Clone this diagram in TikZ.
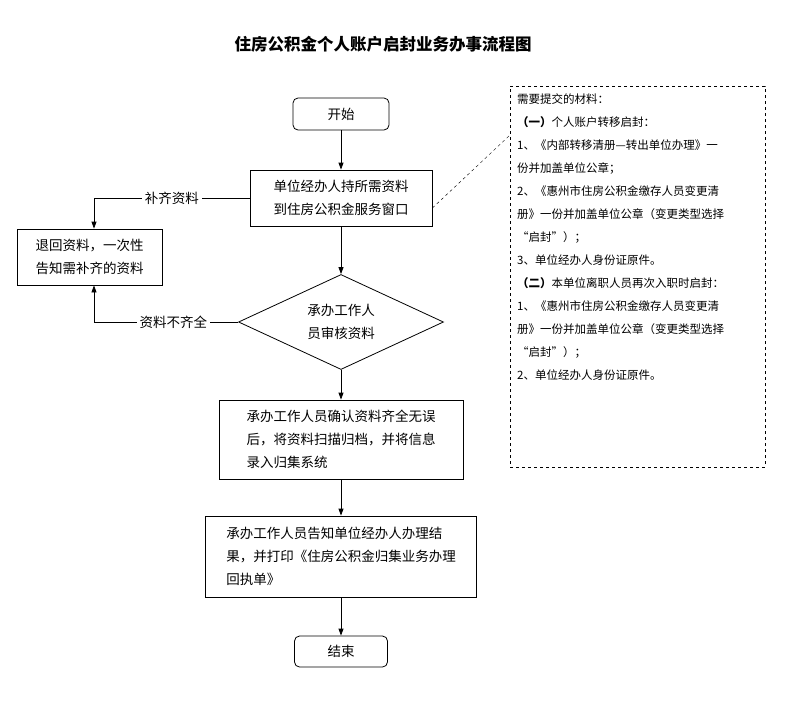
\documentclass[tikz,border=0pt]{standalone}
\usepackage{fontspec}
\setmainfont{Noto Sans CJK SC}
\usetikzlibrary{shapes.geometric,arrows.meta}
\begin{document}
\begin{tikzpicture}[x=1pt,y=-1pt,
 box/.style={draw,thick,minimum width=#1,align=left,font=\fontsize{13.5}{23}\selectfont,inner sep=0pt},
 rbox/.style={draw,thick,rounded corners=5pt,font=\fontsize{13.5}{15}\selectfont},
 arr/.style={-{Triangle[length=7pt,width=5pt]},thick},
 lab/.style={fill=white,font=\fontsize{13.5}{15}\selectfont,inner sep=3pt}]
\useasboundingbox (0,0) rectangle (800,702);
\node[font=\bfseries\fontsize{16.5}{18}\selectfont] (t) at (383,44) {住房公积金个人账户启封业务办事流程图};
\node[rbox,minimum width=96pt,minimum height=32pt] (s) at (341,114) {开始};
\node[box=182pt,minimum height=56pt] (b2) at (341,198) {单位经办人持所需资料\\到住房公积金服务窗口};
\node[box=145pt,minimum height=56pt] (r) at (89.5,257) {退回资料，一次性\\告知需补齐的资料};
\node[diamond,draw,thick,aspect=2.2,minimum width=205pt,minimum height=95pt,align=center,font=\fontsize{13.5}{23}\selectfont,inner sep=0pt] (d) at (341,322) {承办工作人\\员审核资料};
\node[box=244pt,minimum height=79pt] (b3) at (341,439.5) {承办工作人员确认资料齐全无误\\后，将资料扫描归档，并将信息\\录入归集系统};
\node[box=271pt,minimum height=81pt] (b4) at (341,556.5) {承办工作人员告知单位经办人办理结\\果，并打印《住房公积金归集业务办理\\回执单》};
\node[rbox,minimum width=93pt,minimum height=31pt] (e) at (341,651.5) {结束};
\draw[arr] (s) -- (b2);
\draw[arr] (b2) -- (d);
\draw[arr] (d) -- (b3);
\draw[arr] (b3) -- (b4);
\draw[arr] (b4) -- (e);
\coordinate (c1) at (94,198);
\coordinate (c2) at (94,322);
\draw[arr] (b2.west) -- node[lab]{补齐资料} (c1) -- (c1 |- r.north);
\draw[arr] (d.west) -- node[lab,pos=0.45]{资料不齐全} (c2) -- (c2 |- r.south);
\node[draw,dashed,minimum width=255pt,minimum height=381pt,anchor=north west,inner sep=0pt] (m) at (510,86) {};
\node[anchor=north west,align=left,font=\fontsize{11.5}{23}\selectfont,inner sep=0pt] (mt) at (517,94) {需要提交的材料：\\
\textbf{（一）}个人账户转移启封：\\
1、《内部转移清册—转出单位办理》一\\
份并加盖单位公章；\\
2、《惠州市住房公积金缴存人员变更清\\
册》一份并加盖单位公章（变更类型选择\\
“启封”）；\\
3、单位经办人身份证原件。\\
\textbf{（二）}本单位离职人员再次入职时启封：\\
1、《惠州市住房公积金缴存人员变更清\\
册》一份并加盖单位公章（变更类型选择\\
“启封”）；\\
2、单位经办人身份证原件。};
\draw[dashed] (b2.east |- 0,208) -- (m.north west |- 0,135);
\end{tikzpicture}
\end{document}
